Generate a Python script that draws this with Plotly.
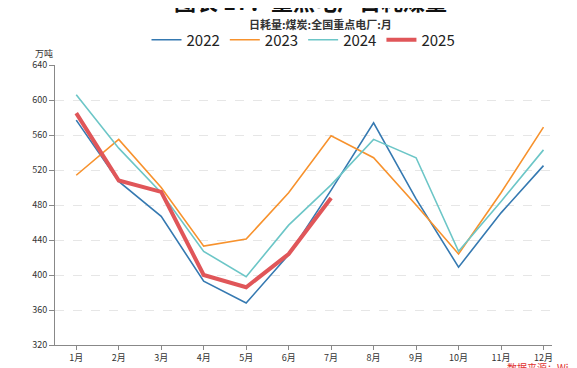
import plotly.graph_objects as go

months = ["1月", "2月", "3月", "4月", "5月", "6月", "7月", "8月", "9月", "10月", "11月", "12月"]
y2022 = [577, 507, 467, 393, 368, 423, 497, 574, 487, 409, 471, 525]
y2023 = [514, 555, 500, 433, 441, 494, 559, 534, 480, 424, 494, 569]
y2024 = [606, 545, 494, 427, 398, 457, 503, 555, 534, 427, 484, 543]
y2025 = [585, 508, 495, 400, 386, 424, 488]
ytickvals = [320, 360, 400, 440, 480, 520, 560, 600, 640]

FONT = "Noto Sans CJK SC"
fig = go.Figure()
series = [
    ("2022", y2022, "#3579b1", 1.6),
    ("2023", y2023, "#f7922d", 1.6),
    ("2024", y2024, "#6cc6c7", 1.6),
    ("2025", y2025, "#e05659", 4),
]
for name, ys, color, w in series:
    fig.add_trace(go.Scatter(x=months[:len(ys)], y=ys, mode="lines", name=name,
                             line=dict(color=color, width=w)))

fig.update_layout(
    width=577, height=368,
    margin=dict(l=47, r=33, t=57, b=31, autoexpand=False),
    paper_bgcolor="white", plot_bgcolor="white",
    font=dict(family=FONT, color="#333", size=9),
    showlegend=True,
    legend=dict(orientation="h", x=0.5, xanchor="center", y=1 + 25 / 280, yanchor="middle",
                font=dict(size=15, color="#222"),
                bgcolor="rgba(0,0,0,0)"),
)
fig.update_xaxes(type="category", range=[-0.5, 11.2], showgrid=False,
                 showline=True, linecolor="#888", linewidth=1,
                 ticks="outside", ticklen=4, tickcolor="#888",
                 tickfont=dict(size=9, color="#333"))
fig.update_yaxes(range=[320, 640], tickvals=ytickvals, showgrid=True,
                 gridcolor="#e6e6e6", griddash="dash", gridwidth=1,
                 showline=True, linecolor="#888", linewidth=1,
                 ticks="outside", ticklen=5, tickcolor="#888",
                 tickfont=dict(size=9, color="#333"), zeroline=False)

fig.add_annotation(text="<b>图表 17：重点电厂日耗煤量</b>", x=(310 - 55) / 497, xref="paper",
                   y=1 + 65 / 280, yref="paper", yanchor="middle", showarrow=False,
                   font=dict(size=22, color="#111", family=FONT))
fig.add_annotation(text="<b>日耗量:煤炭:全国重点电厂:月</b>", x=(320 - 55) / 497, xref="paper",
                   y=1 + 41 / 280, yref="paper", showarrow=False, yanchor="middle",
                   font=dict(size=11, color="#333", family=FONT))
fig.add_annotation(text="万吨", x=0, xref="paper", y=1, yref="paper", xanchor="right",
                   yanchor="bottom", yshift=3, showarrow=False,
                   font=dict(size=9, color="#333", family=FONT))
fig.add_annotation(text="数据来源：Wind", x=(505 - 55) / 497, xref="paper", y=0, yref="paper",
                   xanchor="left", yanchor="top", yshift=-13, showarrow=False,
                   font=dict(size=10, color="#e03030", family=FONT))

fig.write_html("out.html")
